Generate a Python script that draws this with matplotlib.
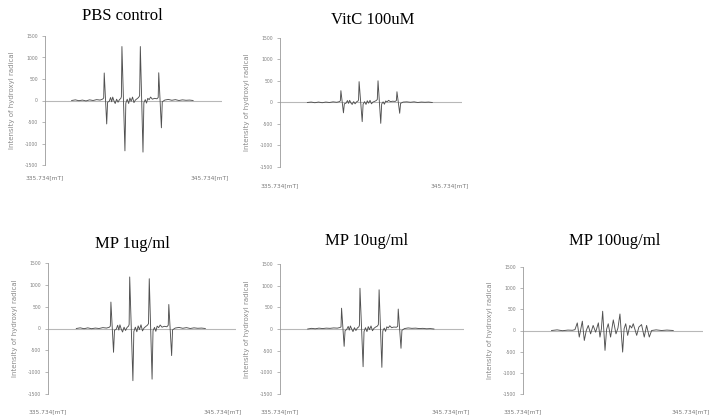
import matplotlib
matplotlib.use('Agg')
import matplotlib.pyplot as plt

plt.rcParams['axes.unicode_minus'] = False

W, H = 714, 417

# field sweep (mT) shared by the four DMPO-OH quartet spectra
field_mT = [337.24, 337.45, 337.65, 337.85, 338.05, 338.25, 338.45, 338.65, 338.85, 339.00,
            339.05, 339.08, 339.22, 339.27, 339.36, 339.44, 339.50, 339.56, 339.63, 339.70,
            339.78, 339.86, 339.94, 340.02, 340.05, 340.08, 340.25, 340.30, 340.38, 340.46,
            340.53, 340.60, 340.68, 340.76, 340.84, 340.93, 341.02, 341.08, 341.12, 341.27,
            341.32, 341.40, 341.47, 341.54, 341.62, 341.70, 341.80, 341.92, 342.06, 342.13,
            342.16, 342.31, 342.36, 342.50, 342.70, 342.90, 343.10, 343.30, 343.50, 343.70,
            343.90, 344.10]

pbs_int = [0, 15, -5, 10, -10, 15, 0, 20, 10, 35,
           60, 640, -545, -40, -20, 70, -30, 80, -10, -70,
           30, -40, 20, 50, 90, 1255, -1170, -60, 30, -70,
           60, -20, 80, -50, 10, 40, 70, 110, 1255, -1200,
           -50, 20, -60, 50, 20, 80, 30, 50, 40, 70,
           645, -635, -30, 10, 25, 5, 20, 0, 15, 5,
           10, 0]

vitc_int = [0, 10, -5, 10, -5, 10, 0, 15, 5, 20,
            40, 275, -240, -30, -15, 45, -20, 50, -10, -45,
            20, -30, 15, 35, 60, 485, -445, -40, 20, -45,
            40, -15, 50, -30, 10, 25, 45, 70, 505, -485,
            -35, 15, -40, 35, 15, 50, 20, 30, 25, 45,
            250, -250, -20, 10, 15, 5, 15, 0, 10, 5,
            10, 0]

mp1_int = [0, 15, -5, 15, -5, 10, 0, 20, 10, 30,
           55, 605, -545, -40, -20, 75, -35, 85, -15, -80,
           30, -45, 25, 55, 95, 1180, -1195, -70, 30, -75,
           60, -25, 85, -55, 10, 45, 75, 110, 1140, -1160,
           -50, 25, -65, 55, 20, 80, 30, 50, 40, 75,
           550, -620, -30, 10, 25, 5, 20, 0, 15, 5,
           10, 0]

mp10_int = [0, 15, 5, 20, 10, 20, 15, 25, 20, 35,
            50, 480, -400, -40, -10, 60, -25, 70, 0, -60,
            30, -35, 25, 50, 85, 940, -870, -60, 30, -60,
            55, -15, 70, -40, 15, 45, 65, 100, 905, -885,
            -45, 20, -55, 50, 25, 75, 30, 45, 40, 60,
            460, -445, -30, 10, 25, 15, 20, 10, 15, 5,
            10, 0]

mp100_field = [337.32, 337.63, 337.93, 338.23, 338.48, 338.62, 338.75, 338.86, 339.03, 339.14,
               339.25, 339.36, 339.49, 339.63, 339.77, 339.92, 340.01, 340.09, 340.16, 340.29,
               340.38, 340.47, 340.60, 340.75, 340.90, 341.01, 341.12, 341.27, 341.35, 341.44,
               341.55, 341.67, 341.77, 341.86, 342.05, 342.17, 342.32, 342.47, 342.60, 342.75,
               342.88, 343.13, 343.43, 343.73, 344.08]
mp100_int = [0, 15, -5, 10, 5, 20, 180, -155, 220, -235,
             0, 120, -80, 120, -40, 180, -155, 40, 455, -470,
             30, 160, -155, 250, -80, 60, 390, -510, 40, 160,
             -115, 120, 60, 160, -115, 80, 140, -155, 120, -155,
             0, 15, 0, 10, 0]

titles = ['PBS control', 'VitC 100uM', 'MP 1ug/ml', 'MP 10ug/ml', 'MP 100ug/ml']
y_ticks = [-1500, -1000, -500, 0, 500, 1000, 1500]
x_start, x_end = 335.734, 345.734
x_labels = ['335.734[mT]', '345.734[mT]']


def add_panel(fig, box, field, intensity, title, title_xy, lab_dy):
    # box = (left, top, width, bottom) in pixels
    left, top, width, bottom = box
    ax = fig.add_axes([left / W, 1 - bottom / H, width / W, (bottom - top) / H])
    ax.axhline(0, color='#b8b8b8', lw=0.8, zorder=1)
    ax.plot(field, intensity, color='#505050', lw=0.65, zorder=2)
    ax.set_xlim(x_start, x_end)
    ax.set_ylim(-1500, 1500)
    ax.set_yticks(y_ticks)
    ax.set_yticklabels([str(t) for t in y_ticks])
    ax.set_xticks([])
    for s in ['top', 'right', 'bottom']:
        ax.spines[s].set_visible(False)
    ax.spines['left'].set_color('#9a9a9a')
    ax.spines['left'].set_linewidth(0.6)
    ax.tick_params(axis='y', length=2, width=0.5, color='#9a9a9a',
                   labelsize=3.3, labelcolor='#808080', pad=3)
    ax.set_ylabel('Intensity of hydroxyl radical', fontsize=5, color='#8a8a8a')
    ax.yaxis.set_label_coords(-30 / width, 0.5)
    hpx = bottom - top
    ax.text(0.0, -lab_dy / hpx, x_labels[0], transform=ax.transAxes,
            ha='center', va='center', fontsize=4.2, color='#7a7a7a')
    ax.text(0.93, -lab_dy / hpx, x_labels[1], transform=ax.transAxes,
            ha='center', va='center', fontsize=4.2, color='#7a7a7a')
    ax.patch.set_alpha(0)
    fig.text(title_xy[0] / W, 1 - title_xy[1] / H, title, ha='center', va='center',
             family='Liberation Serif', fontsize=12)
    return ax


fig = plt.figure(figsize=(W / 100, H / 100), dpi=100)

add_panel(fig, (45, 36, 177, 165), field_mT, pbs_int, titles[0], (122, 16), 13)
add_panel(fig, (280, 38, 182, 167), field_mT, vitc_int, titles[1], (373, 20), 19)
add_panel(fig, (48, 263, 188, 394), field_mT, mp1_int, titles[2], (132, 244), 18)
add_panel(fig, (280, 264, 184, 394), field_mT, mp10_int, titles[3], (367, 241), 18)
add_panel(fig, (523, 267, 180, 394), mp100_field, mp100_int, titles[4], (615, 241), 18)

fig.savefig('out.png', dpi=100)
